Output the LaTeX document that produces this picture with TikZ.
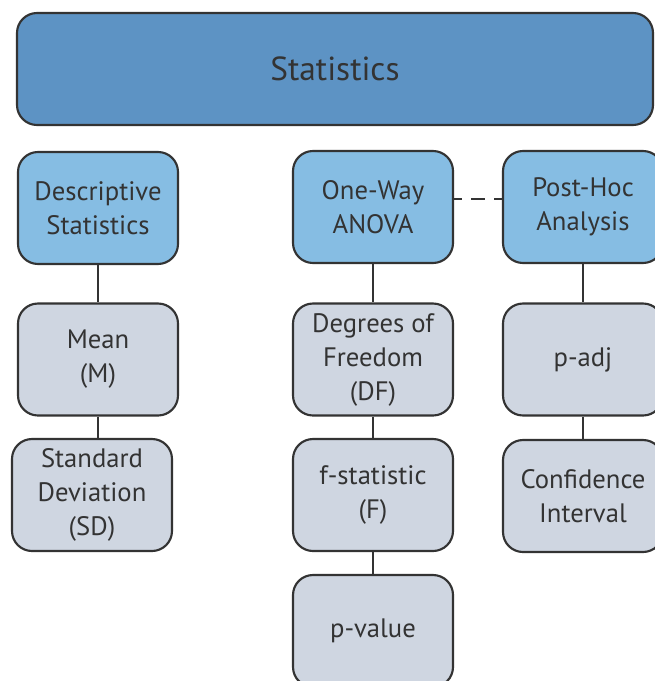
\documentclass[tikz,border=0pt]{standalone}
\usepackage{fontspec}
\setmainfont{PT Sans}
\usetikzlibrary{positioning}

\definecolor{topblue}{RGB}{93,147,196}
\definecolor{headblue}{RGB}{134,189,227}
\definecolor{itemgrey}{RGB}{207,214,225}
\definecolor{edgegrey}{RGB}{51,51,51}

\tikzset{
    box/.style={draw=edgegrey, line width=1.6pt, rounded corners=15pt, align=center,
        text=edgegrey, minimum width=120pt, minimum height=84pt, inner sep=2pt,
        font=\fontsize{20}{25.5}\selectfont},
    headbox/.style={box, fill=headblue},
    itembox/.style={box, fill=itemgrey},
    link/.style={draw=edgegrey, line width=1.3pt},
}

\begin{document}
\begin{tikzpicture}[x=0.75pt, y=-0.75pt]
    \useasboundingbox (0,0) rectangle (655,681);
    \clip (0,0) rectangle (655,681);

    % top level
    \node[box, fill=topblue, minimum width=477pt, font=\fontsize{25}{30}\selectfont] (stats) at (335,69) {Statistics};

    % the three branches
    \node[headbox] (desc) at (98,208) {Descriptive\\Statistics};
    \node[headbox] (anova) at (373,207) {One-Way\\ANOVA};
    \node[headbox] (posthoc) at (583,207) {Post-Hoc\\Analysis};

    \node[itembox] (mean) at (98,359.5) {Mean\\(M)};
    \node[itembox] (sd) at (92,495) {Standard\\Deviation\\(SD)};

    \node[itembox] (df) at (373,359.5) {Degrees of\\Freedom\\(DF)};
    \node[itembox] (fstat) at (373,495) {f-statistic\\(F)};
    \node[itembox] (pval) at (373,631) {p-value};

    \node[itembox] (padj) at (583,359.5) {p-adj};
    \node[itembox] (ci) at (583,496) {Confidence\\Interval};

    % connectors
    \draw[link] (desc) -- (mean);
    \draw[link] (mean.south) -- (mean.south |- sd.north);
    \draw[link] (anova) -- (df);
    \draw[link] (df) -- (fstat);
    \draw[link] (fstat) -- (pval);
    \draw[link] (posthoc) -- (padj);
    \draw[link] (padj) -- (ci);
    \draw[link, dash pattern=on 10pt off 7pt, dash phase=4pt] ([yshift=6pt]anova.east) -- ([yshift=6pt]posthoc.west);
\end{tikzpicture}
\end{document}
